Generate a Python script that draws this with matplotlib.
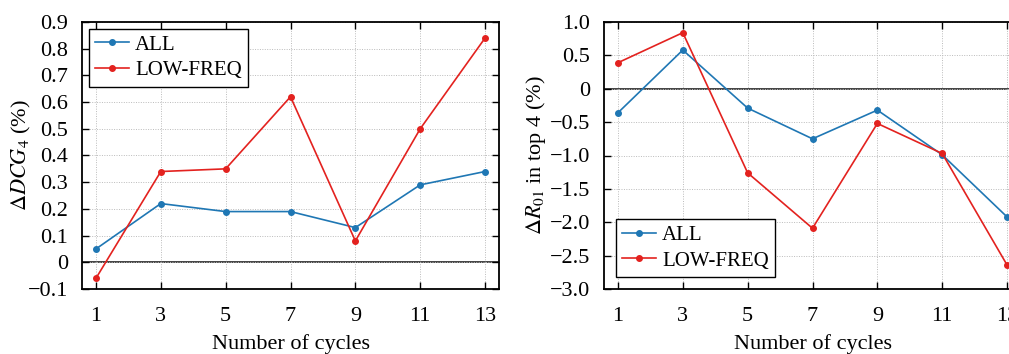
import matplotlib
matplotlib.use("Agg")
import matplotlib.pyplot as plt

plt.rcParams['font.family'] = ['Liberation Serif', 'DejaVu Serif']
plt.rcParams['mathtext.fontset'] = 'stix'
plt.rcParams['font.size'] = 16

cycles = [1, 3, 5, 7, 9, 11, 13]
dcg_all = [0.05, 0.22, 0.19, 0.19, 0.13, 0.29, 0.34]
dcg_low = [-0.06, 0.34, 0.35, 0.62, 0.08, 0.50, 0.84]
r01_all = [-0.36, 0.58, -0.29, -0.75, -0.32, -0.99, -1.92]
r01_low = [0.39, 0.84, -1.26, -2.09, -0.52, -0.97, -2.64]

left_ticks = [-0.1, 0, 0.1, 0.2, 0.3, 0.4, 0.5, 0.6, 0.7, 0.8, 0.9]
left_ticklabels = ['\u22120.1', '0', '0.1', '0.2', '0.3', '0.4', '0.5', '0.6', '0.7', '0.8', '0.9']
right_ticks = [-3.0, -2.5, -2.0, -1.5, -1.0, -0.5, 0, 0.5, 1.0]
right_ticklabels = ['\u22123.0', '\u22122.5', '\u22122.0', '\u22121.5', '\u22121.0', '\u22120.5', '0', '0.5', '1.0']

BLUE = '#1f77b4'
RED = '#e3221f'

W, H = 1009, 354
fig = plt.figure(figsize=(W / 100, H / 100), dpi=100)

def px_axes(x0, x1, y0, y1):
    return fig.add_axes([x0 / W, 1 - y1 / H, (x1 - x0) / W, (y1 - y0) / H])

ax1 = px_axes(82, 499, 22, 289)
ax2 = px_axes(604, 1021, 22, 289)

def style(ax, ticks, ticklabels, ylim, ylabel, ylabel_x):
    ax.axhline(0, color='#222222', lw=1.2, zorder=1)
    ax.set_xlim(0.57, 13.43)
    ax.set_ylim(*ylim)
    ax.set_xticks(cycles)
    ax.set_yticks(ticks)
    ax.set_yticklabels(ticklabels)
    ax.grid(True, linestyle=(0, (1, 1.5)), color='#bbbbbb', lw=0.7)
    ax.tick_params(direction='in', top=True, right=True, length=5, width=1, labelsize=16)
    ax.tick_params(axis='x', pad=13)
    ax.tick_params(axis='y', pad=10)
    for s in ax.spines.values():
        s.set_linewidth(1.3)
    ax.set_xlabel('Number of cycles', fontsize=16)
    ax.set_ylabel(ylabel, fontsize=16)
    ax.xaxis.set_label_coords(0.5, -0.168)
    ax.yaxis.set_label_coords(ylabel_x, 0.5)

def legend(ax, loc, anchor):
    leg = ax.legend(loc=loc, bbox_to_anchor=anchor, fancybox=False, edgecolor='black',
                    framealpha=1, fontsize=15, handlelength=1.6, handletextpad=0.3,
                    borderpad=0.3, labelspacing=0.3, borderaxespad=0)
    leg.get_frame().set_linewidth(1.0)
    return leg

ax1.plot(cycles, dcg_all, color=BLUE, marker='o', ms=4, lw=1.2, label='ALL', zorder=3)
ax1.plot(cycles, dcg_low, color=RED, marker='o', ms=4, lw=1.2, label='LOW-FREQ', zorder=3)
style(ax1, left_ticks, left_ticklabels, (-0.1, 0.9), r'$\Delta DCG_4$ (%)', -0.118)
legend(ax1, 'upper left', (0.017, 0.975))

ax2.plot(cycles, r01_all, color=BLUE, marker='o', ms=4, lw=1.2, label='ALL', zorder=3)
ax2.plot(cycles, r01_low, color=RED, marker='o', ms=4, lw=1.2, label='LOW-FREQ', zorder=3)
style(ax2, right_ticks, right_ticklabels, (-3.0, 1.0), r'$\Delta R_{01}$ in top 4 (%)', -0.135)
legend(ax2, 'lower left', (0.029, 0.045))

fig.savefig('out.png', dpi=100)
